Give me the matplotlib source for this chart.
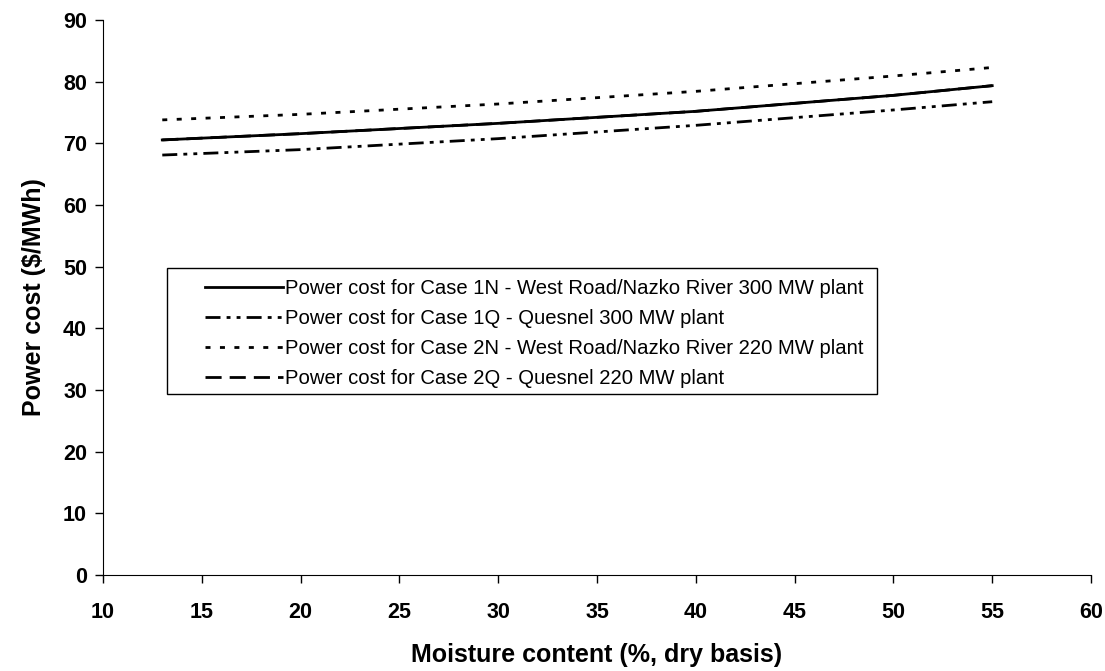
import matplotlib
matplotlib.use("Agg")
import matplotlib.pyplot as plt
from matplotlib.patches import Rectangle

plt.rcParams['font.family'] = ['Liberation Sans', 'DejaVu Sans']

moisture = [13, 20, 30, 40, 50, 55]
case_1n = [70.55, 71.57, 73.24, 75.19, 77.78, 79.35]
case_1q = [68.10, 68.98, 70.76, 72.92, 75.41, 76.75]
case_2n = [73.80, 74.70, 76.38, 78.43, 80.92, 82.30]
case_2q = [70.55, 71.57, 73.24, 75.19, 77.78, 79.35]

labels = [
    "Power cost for Case 1N - West Road/Nazko River 300 MW plant",
    "Power cost for Case 1Q - Quesnel 300 MW plant",
    "Power cost for Case 2N - West Road/Nazko River 220 MW plant",
    "Power cost for Case 2Q - Quesnel 220 MW plant",
]
x_ticks = [10, 15, 20, 25, 30, 35, 40, 45, 50, 55, 60]
y_ticks = [0, 10, 20, 30, 40, 50, 60, 70, 80, 90]

W, H = 1105, 671
left_px, right_px, top_px, bottom_px = 103, 1091, 20, 575
fig = plt.figure(figsize=(W / 100, H / 100), dpi=100)
ax = fig.add_axes([left_px / W, 1 - bottom_px / H, (right_px - left_px) / W, (bottom_px - top_px) / H])

lw = 2.0
ax.plot(moisture, case_1n, color='black', lw=lw, linestyle='-', label=labels[0], zorder=3)
ax.plot(moisture, case_1q, color='black', lw=lw,
        linestyle=(0, (5.4, 2.2, 1.4, 2.2, 1.4, 2.2)), label=labels[1], zorder=2)
ax.plot(moisture, case_2n, color='black', lw=lw, linestyle=(0, (1.8, 3.4)), label=labels[2], zorder=2)
ax.plot(moisture, case_2q, color='black', lw=lw, linestyle=(0, (5.8, 2.9)), label=labels[3], zorder=2)

ax.set_xlim(10, 60)
ax.set_ylim(0, 90)
ax.set_xticks(x_ticks)
ax.set_yticks(y_ticks)
ax.tick_params(direction='out', length=5.5, width=1, labelsize=15.5)
ax.tick_params(axis='x', pad=14)
ax.tick_params(axis='y', pad=6)
for t in ax.get_xticklabels() + ax.get_yticklabels():
    t.set_fontweight('bold')
ax.spines['top'].set_visible(False)
ax.spines['right'].set_visible(False)
ax.set_xlabel("Moisture content (%, dry basis)", fontsize=18, fontweight='bold', labelpad=14)
ax.set_ylabel("Power cost ($/MWh)", fontsize=18, fontweight='bold', labelpad=12)

# legend frame drawn separately (asymmetric inner padding as in the reference)
def ax_frac(px, py):
    return (px - left_px) / (right_px - left_px), (bottom_px - py) / (bottom_px - top_px)

x0, y1 = ax_frac(167, 268)
x1, y0 = ax_frac(877, 394)
ax.add_patch(Rectangle((x0, y0), x1 - x0, y1 - y0, transform=ax.transAxes,
                       facecolor='white', edgecolor='black', lw=1.0, zorder=4))
lx, ly = ax_frac(205, 279)
leg = ax.legend(loc='upper left', bbox_to_anchor=(lx, ly), fontsize=14.6,
                frameon=False, handlelength=3.85, handletextpad=0.1, labelspacing=0.55,
                borderpad=0, borderaxespad=0)
leg.set_zorder(5)

fig.savefig("out.png", dpi=100)
